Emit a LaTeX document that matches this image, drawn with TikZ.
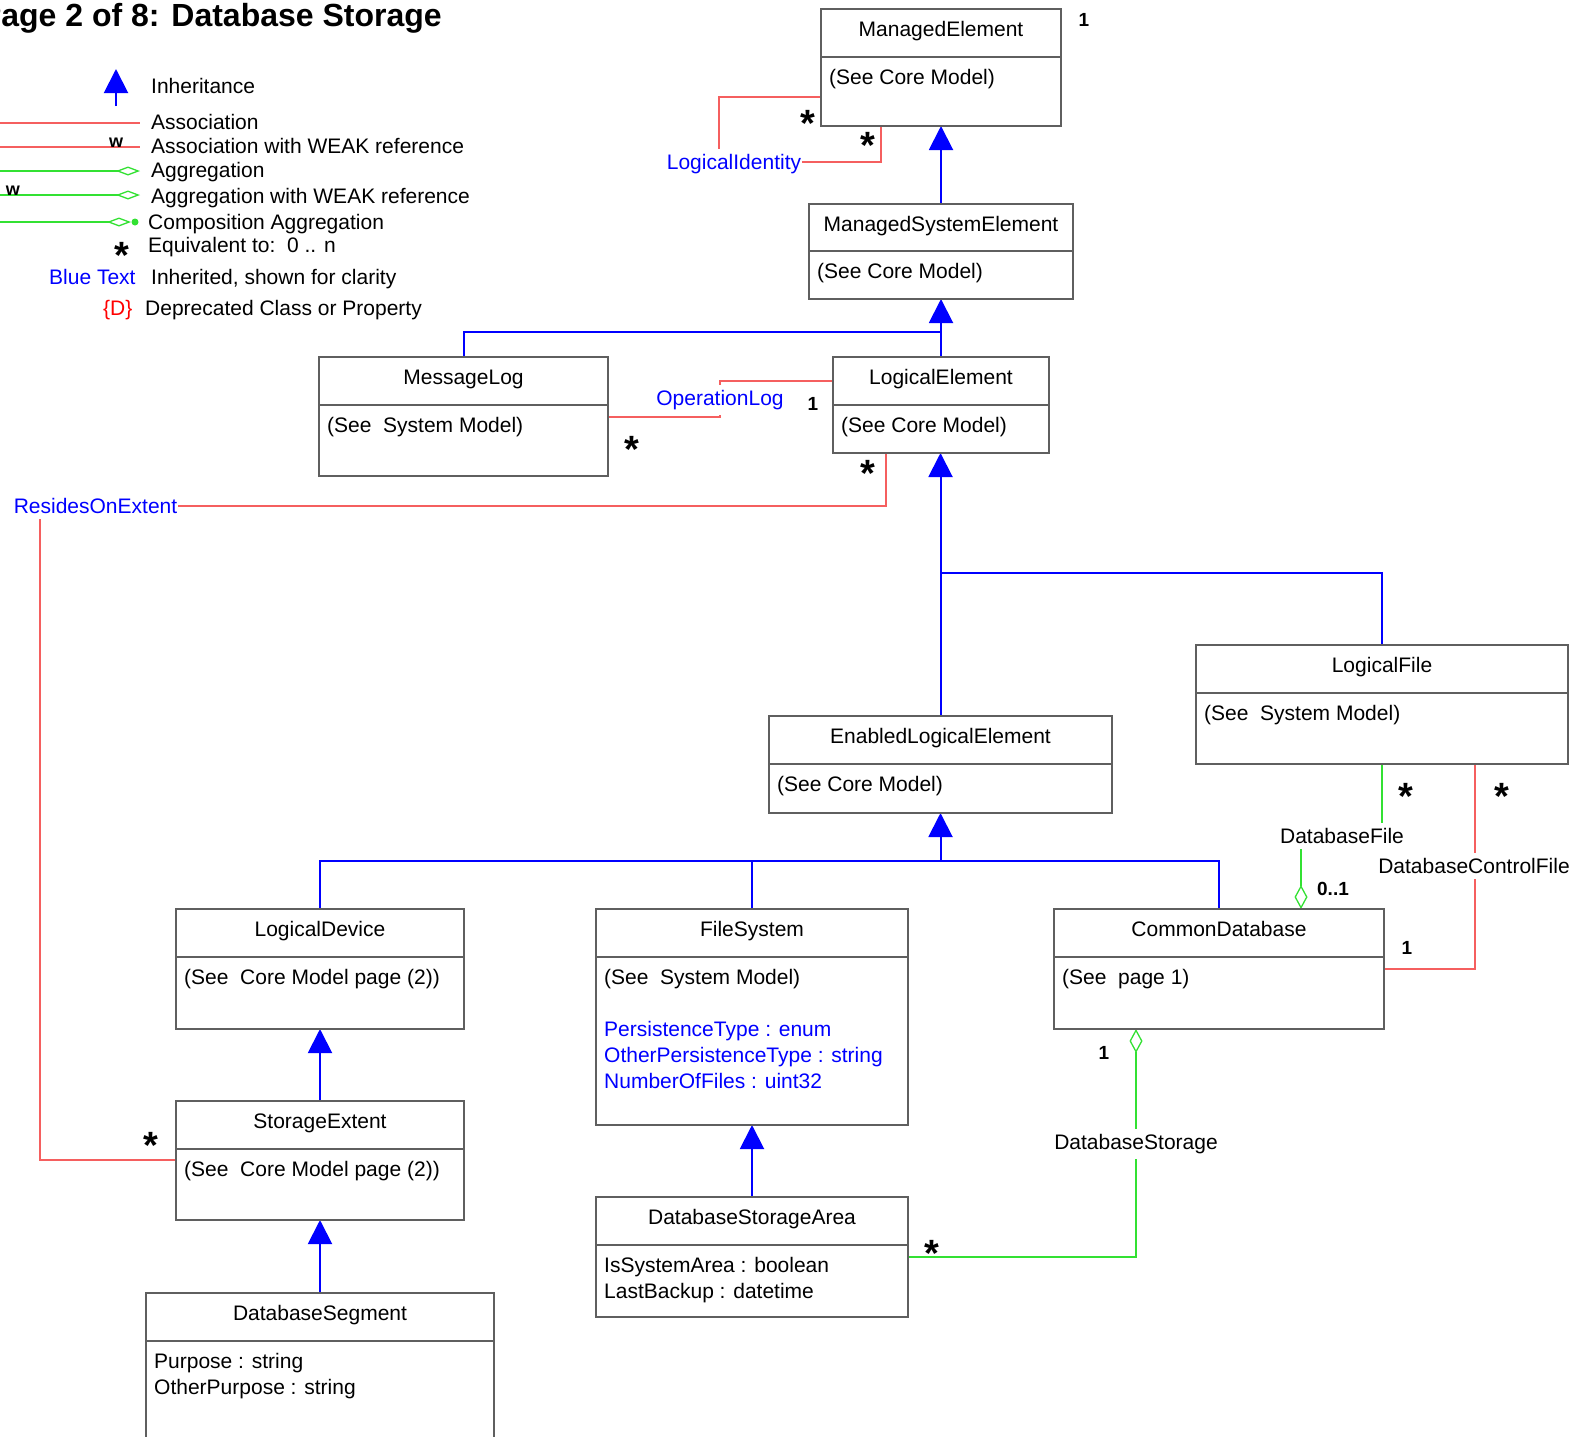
\documentclass[tikz,border=0pt]{standalone}
\usepackage{fontspec}
\setmainfont{Liberation Sans}
\usetikzlibrary{arrows.meta}
\definecolor{assocred}{RGB}{245,95,95}
\definecolor{agggreen}{RGB}{50,225,50}
\definecolor{inhblue}{RGB}{0,0,255}
\definecolor{boxgray}{RGB}{95,95,95}
\pgfdeclarelayer{bg}
\pgfsetlayers{bg,main}
\tikzset{
 clsbox/.style={draw=boxgray, line width=1.5pt, inner sep=0pt, outer sep=0pt},
 clsline/.style={draw=boxgray, line width=1.5pt},
 txt/.style={inner sep=0pt, anchor=base west, font=\fontsize{21}{25}\selectfont},
 ctxt/.style={inner sep=0pt, anchor=base, font=\fontsize{21}{25}\selectfont},
 inhline/.style={draw=inhblue, line width=2pt},
 inh/.style={inhline, -{Triangle[width=24pt,length=24pt]}},
 assoc/.style={draw=assocred, line width=1.5pt},
 agg/.style={draw=agggreen, line width=1.3pt},
 aggd/.style={agg, -{Diamond[width=13pt,length=24pt,fill=white]}},
 aggleg/.style={agg, -{Diamond[width=9pt,length=24pt,fill=white]}},
 lbl/.style={fill=white, inner xsep=1pt, inner ysep=5pt, anchor=base, font=\fontsize{21}{25}\selectfont},
 mult/.style={inner sep=0pt, anchor=base, font=\bfseries\fontsize{19}{22}\selectfont},
 astr/.style={inner sep=0pt, anchor=base, font=\bfseries\fontsize{38}{40}\selectfont},
 wmark/.style={inner sep=0pt, anchor=base, font=\bfseries\fontsize{18}{20}\selectfont},
}
\newcommand{\cls}[7]{%
 \node[clsbox, anchor=north west, minimum width={(#4)-(#2)}, minimum height={(#5)-(#3)}] (#1) at (#2,#3) {};
 \draw[clsline] (#2,#6) -- (#4,#6);
 \node[ctxt] (#1-title) at ({((#2)+(#4))/2},{(#3)+27.5}) {#7};
}
\newcommand{\attr}[4]{\node[txt] (#1) at (#2,#3) {#4};}
\newcommand{\mstar}[3]{\node[astr] (#1) at (#2,{(#3)+21}) {*};}
\begin{document}
\begin{tikzpicture}[x=1pt,y=-1pt]
\useasboundingbox (0,0) rectangle (1575,1436);
\begin{pgfonlayer}{bg}\fill[white] (0,0) rectangle (1575,1436);\end{pgfonlayer}
\clip (0,0) rectangle (1575,1436);

% title
\node[inner sep=0pt, anchor=base east, font=\bfseries\fontsize{32}{36}\selectfont] (title) at (442,26) {Page 2 of 8: Database Storage};

% legend
\draw[inh] (116,106) -- (116,69);
\draw[assoc] (0,123) -- (140,123);
\draw[assoc] (0,147) -- (140,147);
\node[wmark] (lw1) at (116,147) {w};
\draw[aggleg] (0,171) -- (140,171);
\draw[aggleg] (0,195) -- (140,195);
\node[wmark] (lw2) at (13,195) {w};
\draw[aggleg] (0,222) -- (131,222);
\fill[agggreen] (135,222) circle (3.5);
\mstar{ls}{122}{247}
\node[txt] (l1) at (151,93.5) {Inheritance};
\node[txt] (l2) at (151,129) {Association};
\node[txt] (l3) at (151,153) {Association with WEAK reference};
\node[txt] (l4) at (151,177) {Aggregation};
\node[txt] (l5) at (151,203) {Aggregation with WEAK reference};
\node[txt] (l6) at (148,229) {Composition Aggregation};
\node[txt] (l7) at (148,252) {Equivalent to:\ \ 0 .. n};
\node[txt,text=blue] (l8a) at (49,284) {Blue Text};
\node[txt] (l8) at (151,284) {Inherited, shown for clarity};
\node[txt,text=red] (l9a) at (103,315.5) {\{D\}};
\node[txt] (l9) at (145,315.5) {Deprecated Class or Property};

% classes
\cls{me}{821}{9}{1061}{126}{57}{ManagedElement}
\attr{me-a}{829}{84.5}{(See Core Model)}
\cls{mse}{809}{204}{1073}{299}{251}{ManagedSystemElement}
\attr{mse-a}{817}{278.5}{(See Core Model)}
\cls{ml}{319}{357}{608}{476}{405}{MessageLog}
\attr{ml-a}{327}{432.5}{(See\ \ System Model)}
\cls{le}{833}{357}{1049}{453}{405}{LogicalElement}
\attr{le-a}{841}{432.5}{(See Core Model)}
\cls{lf}{1196}{645}{1568}{764}{693}{LogicalFile}
\attr{lf-a}{1204}{720.5}{(See\ \ System Model)}
\cls{ele}{769}{716}{1112}{813}{764}{EnabledLogicalElement}
\attr{ele-a}{777}{791.5}{(See Core Model)}
\cls{ld}{176}{909}{464}{1029}{957}{LogicalDevice}
\attr{ld-a}{184}{984.5}{(See\ \ Core Model page (2))}
\cls{fs}{596}{909}{908}{1125}{957}{FileSystem}
\attr{fs-a}{604}{984.5}{(See\ \ System Model)}
\attr{fs-b}{604}{1036}{\color{blue}PersistenceType : enum}
\attr{fs-c}{604}{1062}{\color{blue}OtherPersistenceType : string}
\attr{fs-d}{604}{1088}{\color{blue}NumberOfFiles : uint32}
\cls{cd}{1054}{909}{1384}{1029}{957}{CommonDatabase}
\attr{cd-a}{1062}{984.5}{(See\ \ page 1)}
\cls{se}{176}{1101}{464}{1220}{1149}{StorageExtent}
\attr{se-a}{184}{1176.5}{(See\ \ Core Model page (2))}
\cls{dsa}{596}{1197}{908}{1317}{1245}{DatabaseStorageArea}
\attr{dsa-a}{604}{1272}{IsSystemArea : boolean}
\attr{dsa-b}{604}{1298}{LastBackup : datetime}
\cls{ds}{146}{1293}{494}{1460}{1341}{DatabaseSegment}
\attr{ds-a}{154}{1368.5}{Purpose : string}
\attr{ds-b}{154}{1394.5}{OtherPurpose : string}

% association labels
\node[lbl, text=blue] (li) at (734,169.5) {LogicalIdentity};
\node[lbl, text=blue] (opl) at (720,405.5) {OperationLog};
\node[lbl, text=blue] (roe) at (95.5,513.5) {ResidesOnExtent};
\node[lbl] (dbf) at (1342,843.5) {DatabaseFile};
\node[lbl] (dbcf) at (1474,873.5) {DatabaseControlFile};
\node[lbl] (dbs) at (1136,1149.5) {DatabaseStorage};

% multiplicities
\node[mult] (m1) at (1084,26.8) {1};
\mstar{s1}{808}{115}
\mstar{s2}{868}{137}
\mstar{s3}{632}{441}
\node[mult] (m2) at (813,410) {1};
\mstar{s4}{868}{465}
\mstar{s5}{151}{1137}
\mstar{s6}{1406}{788}
\mstar{s7}{1502}{788}
\node[mult] (m3) at (1333,895) {0..1};
\node[mult] (m4) at (1407,954) {1};
\node[mult] (m5) at (1104,1059) {1};
\mstar{s8}{932}{1245}

% connectors
\begin{pgfonlayer}{bg}
\draw[inh] (mse.north) -- (me.south);
\draw[inhline] (ml.north) |- (mse.south |- 0,332);
\draw[inh] (le.north) -- (mse.south);
\draw[inh] (ele.north) -- (ele.north |- le.south);
\draw[inhline] (lf.north) |- (ele.north |- 0,573);
\draw[inhline] (ld.north) |- (cd.north |- 0,861) -- (cd.north);
\draw[inhline] (fs.north) -- (fs.north |- 0,861);
\draw[inh] (ele.south |- 0,861) -- (ele.south);
\draw[inh] (se.north) -- (ld.south);
\draw[inh] (ds.north) -- (se.south);
\draw[inh] (dsa.north) -- (fs.south);

\draw[assoc] (li.north -| 719,0) |- (me.west |- 0,97);
\draw[assoc] (li.east |- 0,162) -| (me.south -| 881,0);
\draw[assoc] (ml.east |- 0,417) -| (opl.center) |- (le.west |- 0,381);
\draw[assoc] (le.south -| 886,0) |- (roe.center -| 40,0) |- (se.west |- 0,1160);
\draw[assoc] (lf.south -| 1475,0) |- (cd.east |- 0,969);
\draw[agg] (lf.south -| 1382,0) |- (dbf.center -| 1301,0);
\draw[aggd] (dbf.center -| 1301,0) -- (cd.north -| 1301,0);
\draw[aggd] (dsa.east |- 0,1257) -| (cd.south -| 1136,0);
\end{pgfonlayer}
\end{tikzpicture}
\end{document}
